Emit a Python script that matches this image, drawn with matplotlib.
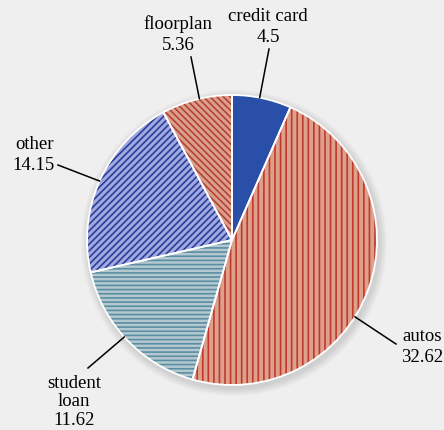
import matplotlib.pyplot as plt
from matplotlib.patches import Circle
import numpy as np

plt.rcParams['font.family'] = ['Liberation Serif', 'DejaVu Serif']
plt.rcParams['hatch.linewidth'] = 1.2

categories = ['credit card', 'autos', 'student\nloan', 'other', 'floorplan']
values = [4.5, 32.62, 11.62, 14.15, 5.36]
value_labels = ['4.5', '32.62', '11.62', '14.15', '5.36']

face_colors = ['#2a4fa8', '#dca08c', '#b4c8d0', '#a2a8e0', '#d8a090']
hatch_colors = ['#2a4fa8', '#c0392b', '#5a8ea2', '#2a3f9a', '#b8422e']
hatches = ['', '|||', '----', '/////', '\\\\\\\\\\']

# label placement (pixel coords, y from top) and anchor angle on the rim
label_pos = [(268, 27), (422, 347), (74, 402), (34, 155), (178, 35)]
anchor_ang = [79, -32, -138, 156, 103]
line_end = [(269, 49), (396, 344), (88, 368), (58, 165), (191, 57)]

W, H = 444, 430
cx, cy, R = 232, H - 240, 145

fig = plt.figure(figsize=(W / 100, H / 100), dpi=100)
fig.patch.set_facecolor('#efefef')
ax = fig.add_axes([0, 0, 1, 1])
ax.set_facecolor('#efefef')

# soft shadow
for k in range(8):
    ax.add_patch(Circle((cx + 2, cy - 3), R + 8 - k, color='#808080',
                        alpha=0.035, lw=0, zorder=0))

wedges, _ = ax.pie(values, startangle=90, counterclock=False, center=(cx, cy),
                   radius=R, colors=face_colors, frame=True,
                   wedgeprops=dict(linewidth=0))
for w, h, hc in zip(wedges, hatches, hatch_colors):
    w.set_hatch(h)
    w.set_edgecolor(hc)
    w.set_zorder(2)
ax.pie(values, startangle=90, counterclock=False, center=(cx, cy), radius=R,
       colors=['none'] * len(values), frame=True,
       wedgeprops=dict(linewidth=1.3, edgecolor='white', zorder=3))

for name, val, (tx, ty), ang, (lx, ly) in zip(categories, value_labels, label_pos,
                                              anchor_ang, line_end):
    a = np.deg2rad(ang)
    px, py = cx + R * np.cos(a), cy + R * np.sin(a)
    ax.plot([px, lx], [py, H - ly], color='black', lw=1.1, zorder=4)
    ls = 1.15 if '\n' in name else 1.3
    ax.text(tx, H - ty, name + '\n' + val, ha='center', va='center',
            fontsize=13.5, linespacing=ls, zorder=5)

ax.set_xlim(0, W)
ax.set_ylim(0, H)
ax.set_aspect('auto')
ax.axis('off')

fig.savefig('out.png', dpi=100, facecolor=fig.get_facecolor())
